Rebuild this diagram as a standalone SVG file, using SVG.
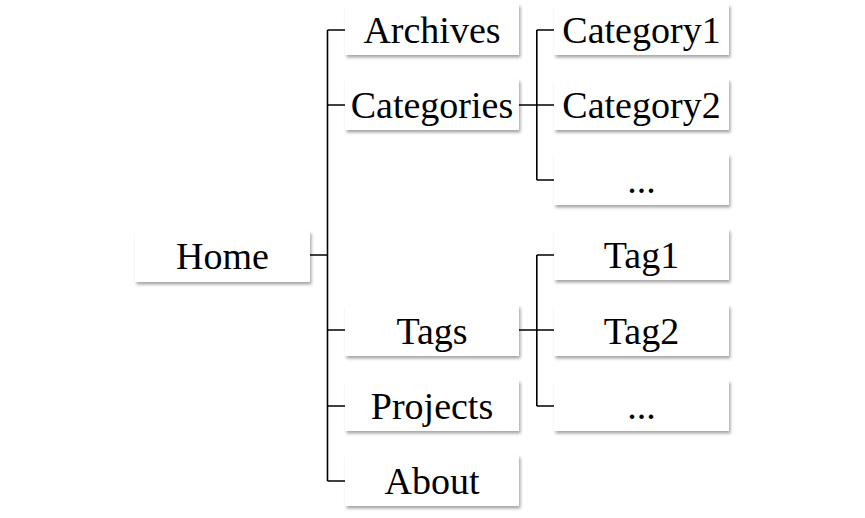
<svg xmlns="http://www.w3.org/2000/svg" width="865" height="518" viewBox="0 0 865 518">
<defs>
<filter id="sh" x="-10%" y="-20%" width="125%" height="150%">
<feDropShadow dx="1.5" dy="2.5" stdDeviation="1.6" flood-color="#000" flood-opacity="0.35"/>
</filter>
</defs>
<style>
.box{fill:#fff;filter:url(#sh)}
.lbl{font-family:"Liberation Serif","Times New Roman",serif;font-size:38px;fill:#000;text-anchor:middle}
.con{fill:none;stroke:#000;stroke-width:1.6}
</style>
<rect width="865" height="518" fill="#fff"/>
<g id="connectors">
<path class="con" d="M310 255H327.5M327.5 30V481M327.5 30H345M327.5 105H345M327.5 330H345M327.5 406H345M327.5 481H345"/>
<path class="con" d="M519 105H554M536.8 30V180M536.8 30H554M536.8 180H554"/>
<path class="con" d="M519 330H554M536.8 255V406M536.8 255H554M536.8 406H554"/>
</g>
<g id="home"><rect class="box" x="135" y="231" width="175" height="51"/><text class="lbl" x="222.5" y="269">Home</text></g>
<g id="archives"><rect class="box" x="345" y="4" width="174" height="51"/><text class="lbl" x="432" y="43">Archives</text></g>
<g id="categories"><rect class="box" x="345" y="79" width="174" height="51"/><text class="lbl" x="432" y="118">Categories</text></g>
<g id="tags"><rect class="box" x="345" y="305" width="174" height="51"/><text class="lbl" x="432" y="344">Tags</text></g>
<g id="projects"><rect class="box" x="345" y="380" width="174" height="51"/><text class="lbl" x="432" y="419">Projects</text></g>
<g id="about"><rect class="box" x="345" y="455" width="174" height="51"/><text class="lbl" x="432" y="494">About</text></g>
<g id="category1"><rect class="box" x="554" y="4" width="175" height="51"/><text class="lbl" x="641.5" y="43">Category1</text></g>
<g id="category2"><rect class="box" x="554" y="79" width="175" height="51"/><text class="lbl" x="641.5" y="118">Category2</text></g>
<g id="category-more"><rect class="box" x="554" y="154" width="175" height="51"/><text class="lbl" x="641.5" y="193">...</text></g>
<g id="tag1"><rect class="box" x="554" y="229" width="175" height="51"/><text class="lbl" x="641.5" y="268">Tag1</text></g>
<g id="tag2"><rect class="box" x="554" y="305" width="175" height="51"/><text class="lbl" x="641.5" y="344">Tag2</text></g>
<g id="tag-more"><rect class="box" x="554" y="380" width="175" height="51"/><text class="lbl" x="641.5" y="419">...</text></g>
</svg>
